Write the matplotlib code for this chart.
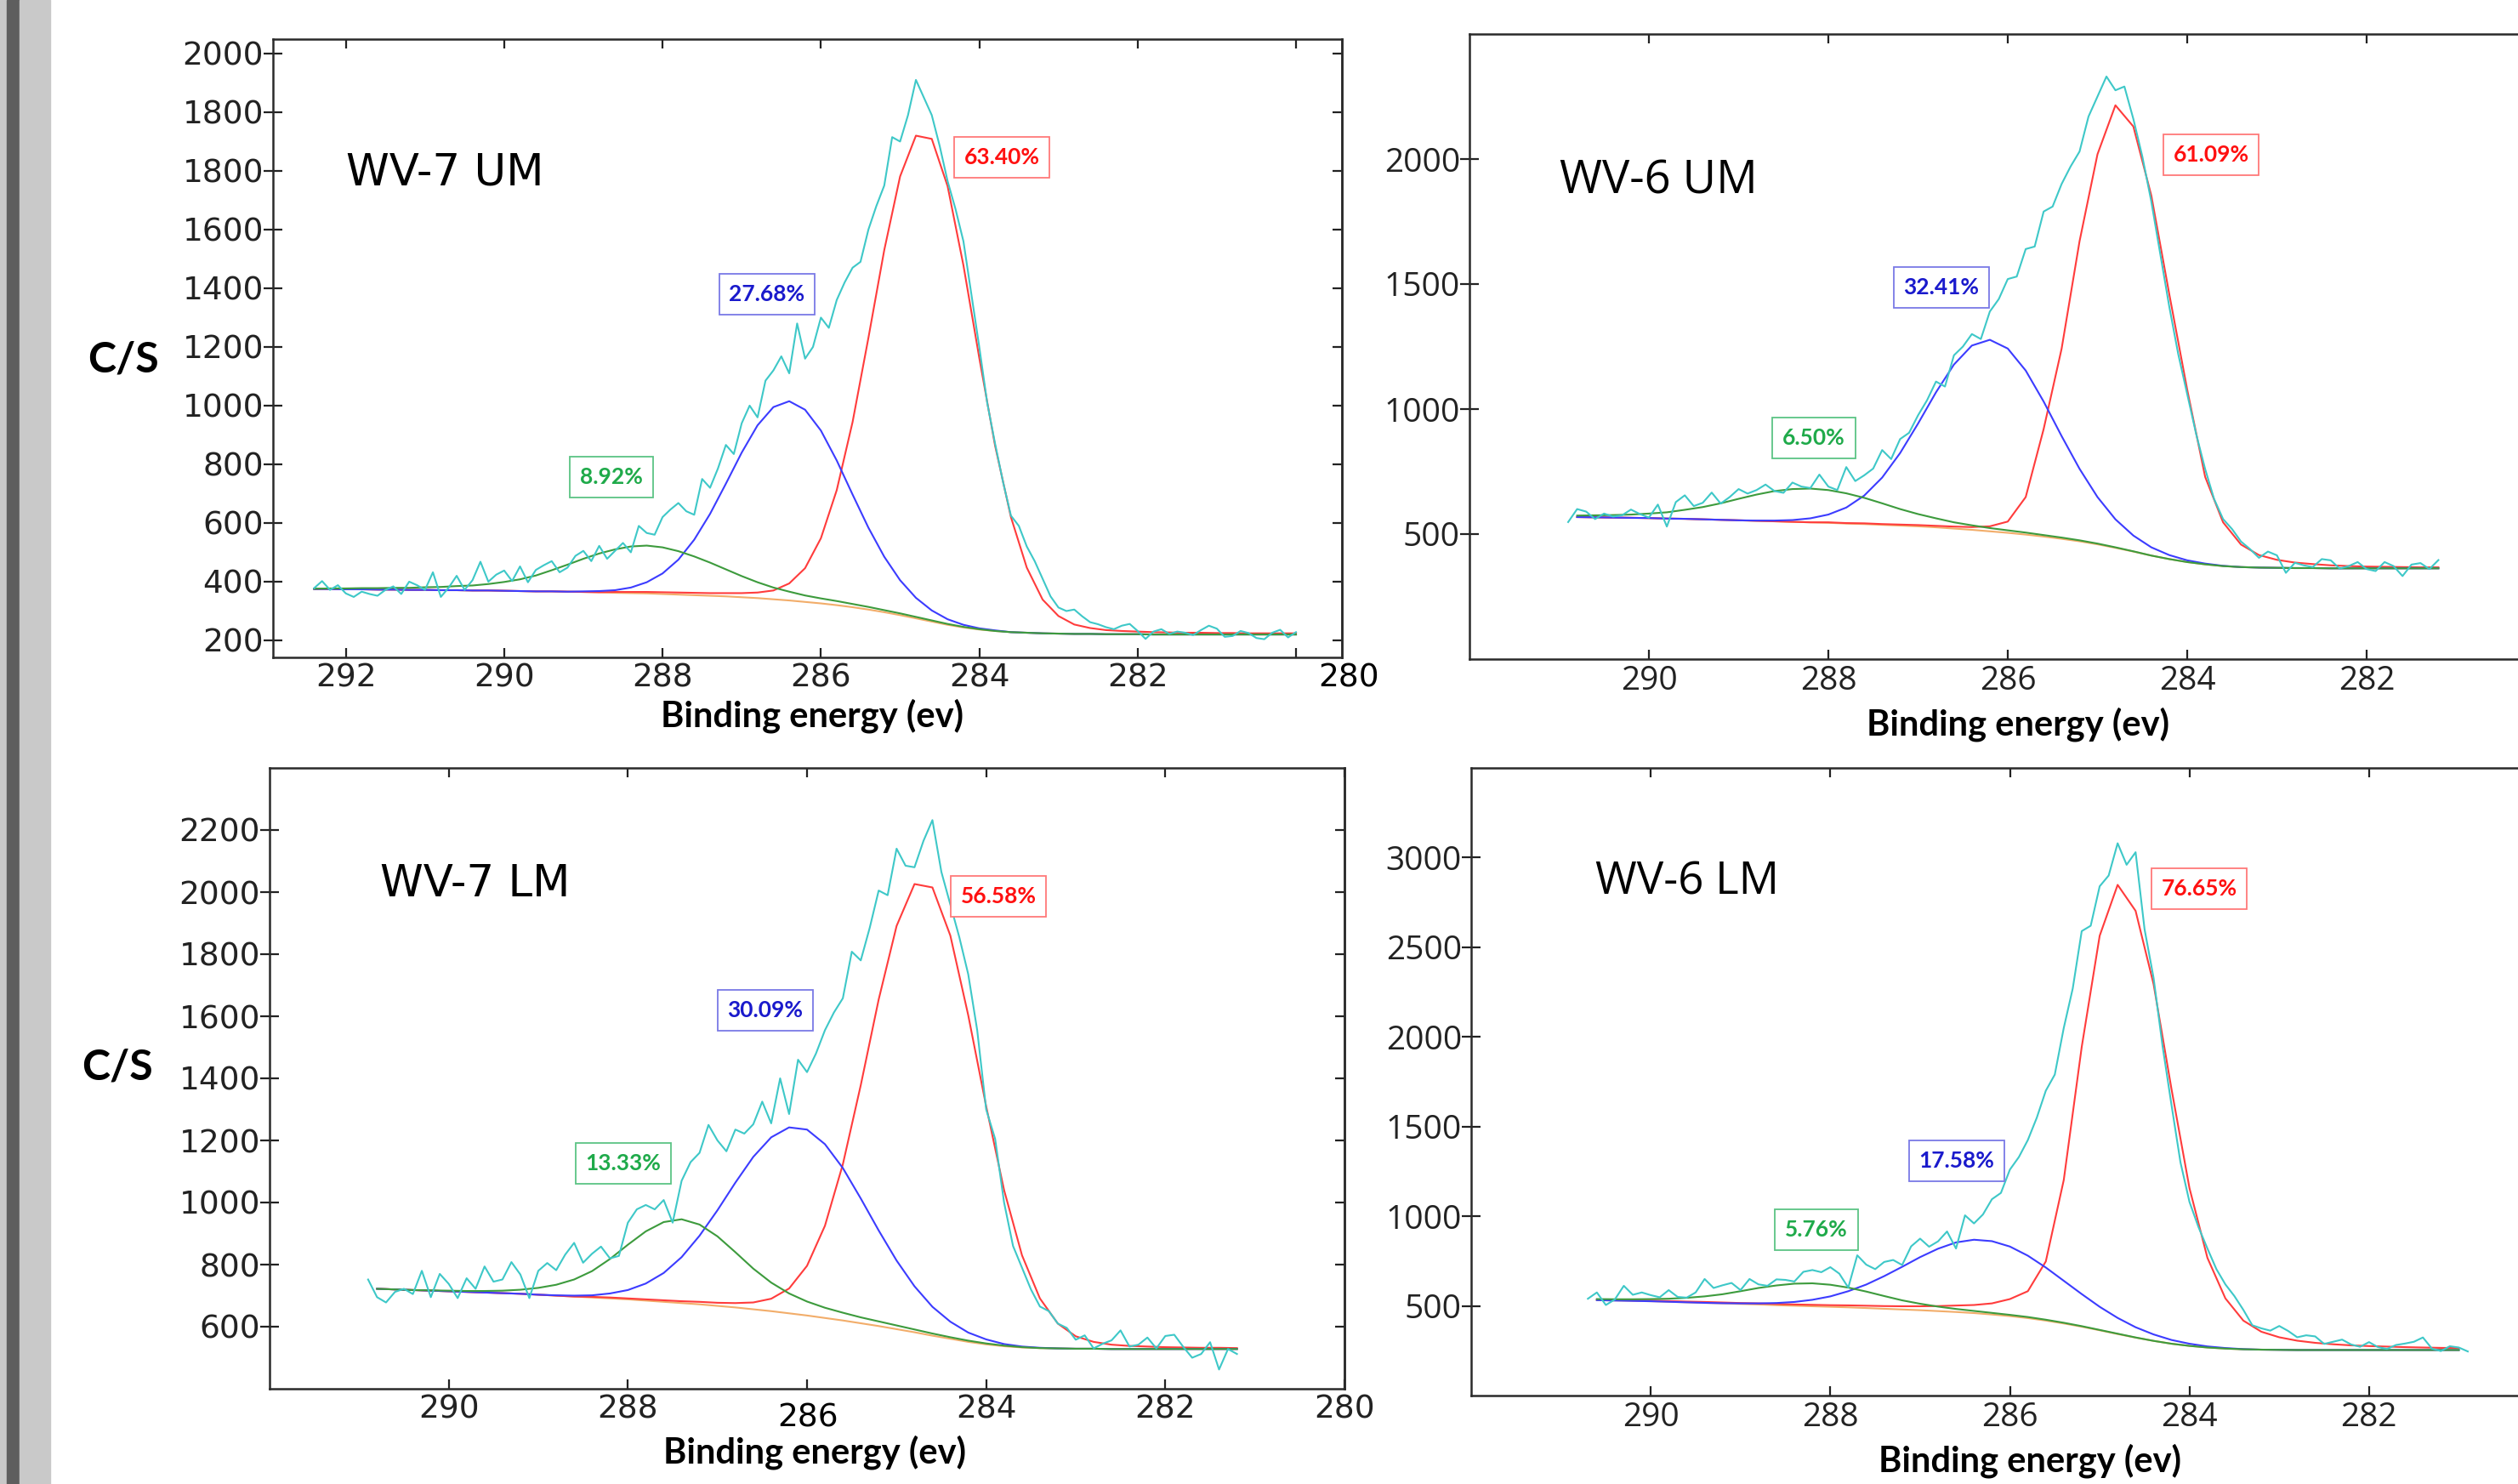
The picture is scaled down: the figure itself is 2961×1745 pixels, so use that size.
import numpy as np
import matplotlib.pyplot as plt
from matplotlib.patches import Rectangle

W, H = 2961, 1745
FIT_STEP = 0.2   # eV between points of the fitted curves
RAW_STEP = 0.1   # eV between points of the measured spectra

# ---------------- WV-7 UM ----------------
p1_raw_start = 292.4
p1_raw = [378, 402, 372, 388, 360, 348, 366, 358, 352, 372,
          384, 358, 400, 388, 372, 432, 348, 380, 420, 372,
          405, 468, 400, 424, 438, 402, 452, 398, 440, 456,
          470, 432, 448, 488, 505, 470, 522, 478, 505, 532,
          500, 590, 566, 560, 620, 646, 668, 640, 628, 750,
          720, 786, 866, 835, 940, 1000, 960, 1085, 1120, 1168,
          1110, 1280, 1160, 1200, 1300, 1265, 1360, 1420, 1470, 1490,
          1600, 1680, 1750, 1915, 1900, 1990, 2110, 2050, 1990, 1885,
          1765, 1670, 1560, 1380, 1200, 1010, 870, 740, 625, 590,
          520, 470, 410, 350, 312, 300, 305, 282, 262, 255,
          245, 238, 250, 256, 232, 205, 230, 238, 222, 230,
          226, 218, 235, 250, 240, 212, 215, 232, 225, 208,
          204, 226, 236, 210, 228]
p1_bg_start = 292.4
p1_bg = [375, 375, 374, 374, 373, 373, 372, 372, 371, 371,
         370, 370, 369, 368, 367, 367, 366, 365, 364, 362,
         361, 360, 358, 356, 354, 352, 350, 347, 344, 340,
         336, 331, 326, 320, 313, 305, 296, 286, 275, 264,
         253, 244, 237, 232, 228, 226, 224, 223, 222, 222,
         221, 221, 221, 220, 220, 220, 220, 220, 220, 220,
         220, 220, 220]
p1_red_start = 288.6
p1_red = [3, 4, 5, 6, 7, 8, 9, 11, 14, 19, 30, 58, 115, 222, 392, 631, 926,
          1234, 1495, 1645, 1645, 1495, 1234, 926, 631, 392, 222, 115, 60,
          32, 20, 14, 11, 9, 8, 7, 6, 6, 5, 5, 4, 4, 4, 4]
p1_blue_start = 289.0
p1_blue = [2, 4, 9, 19, 38, 70, 119, 189, 279, 384, 493, 589, 655, 679,
           655, 589, 493, 384, 279, 189, 119, 70, 38, 19, 9, 4, 2]
p1_green_start = 292.4
p1_green = [1, 2, 3, 4, 5, 6, 7, 9, 11, 14, 17, 22, 30, 40, 54, 72, 92, 113,
            132, 148, 159, 163, 159, 148, 132, 113, 92, 72, 54, 40, 30, 22,
            17, 14, 11, 9, 7, 6, 5, 4, 3, 2, 1]
p1_pct = ['8.92%', '27.68%', '63.40%']

# ---------------- WV-6 UM ----------------
p2_raw_start = 290.9
p2_raw = [548, 600, 590, 560, 582, 570, 575, 598, 580, 566,
          618, 530, 628, 655, 612, 625, 666, 622, 648, 680,
          662, 676, 698, 672, 665, 706, 690, 684, 738, 690,
          676, 768, 712, 735, 762, 836, 800, 880, 905, 975,
          1035, 1110, 1090, 1215, 1250, 1300, 1280, 1390, 1440, 1520,
          1530, 1640, 1650, 1790, 1810, 1900, 1970, 2030, 2170, 2250,
          2330, 2275, 2290, 2160, 2010, 1830, 1620, 1410, 1220, 1060,
          900, 760, 640, 560, 520, 470, 440, 405, 430, 415,
          345, 385, 375, 368, 400, 395, 362, 372, 388, 360,
          352, 388, 372, 332, 378, 384, 360, 396]
p2_bg_start = 290.8
p2_bg = [568, 567, 566, 565, 564, 562, 561, 559, 557, 555,
         553, 551, 549, 547, 545, 542, 540, 537, 534, 531,
         527, 522, 517, 511, 505, 498, 490, 481, 471, 459,
         445, 430, 414, 400, 388, 379, 372, 368, 366, 365,
         364, 364, 363, 363, 363, 363, 363, 363, 363]
p2_red_start = 288.0
p2_red = [2, 2, 3, 3, 4, 5, 6, 8, 11, 20, 45, 150, 430, 760, 1200, 1560,
          1770, 1700, 1440, 1060, 690, 350, 175, 90, 50, 32, 22, 16, 12, 9,
          7, 6, 5, 4, 4]
p2_blue_start = 288.8
p2_blue = [1, 3, 7, 16, 33, 64, 114, 189, 290, 411, 540, 656, 737, 766,
           737, 656, 540, 411, 290, 189, 114, 64, 33, 16, 7, 3, 1]
p2_green_start = 290.8
p2_green = [6, 8, 10, 13, 18, 25, 36, 49, 66, 86, 105, 121, 131, 135, 131,
            121, 105, 86, 66, 49, 36, 25, 18, 13, 10, 8, 6, 5, 4, 3, 2, 1]
p2_pct = ['6.50%', '32.41%', '61.09%']

# ---------------- WV-7 LM ----------------
p3_raw_start = 290.9
p3_raw = [752, 695, 678, 712, 722, 705, 780, 695, 770, 738,
          692, 756, 722, 794, 745, 752, 808, 768, 692, 780,
          805, 782, 832, 870, 806, 835, 858, 820, 828, 935,
          978, 992, 978, 1008, 935, 1070, 1130, 1160, 1250, 1200,
          1165, 1235, 1222, 1252, 1325, 1255, 1400, 1285, 1460, 1420,
          1480, 1555, 1612, 1658, 1808, 1780, 1885, 2005, 1990, 2140,
          2085, 2080, 2165, 2232, 2065, 1960, 1855, 1735, 1555, 1300,
          1205, 1000, 860, 790, 720, 665, 650, 610, 596, 558,
          572, 530, 545, 556, 588, 536, 542, 565, 530, 570,
          574, 535, 500, 512, 550, 462, 528, 512]
p3_bg_start = 290.8
p3_bg = [722, 720, 718, 716, 714, 712, 710, 708, 706, 703,
         700, 697, 694, 691, 688, 684, 680, 676, 672, 667,
         662, 656, 650, 643, 636, 628, 620, 611, 602, 592,
         582, 571, 561, 551, 543, 537, 533, 531, 530, 529,
         529, 528, 528, 528, 528, 528, 528, 528, 528]
p3_red_start = 288.4
p3_red = [2, 3, 3, 4, 5, 6, 8, 10, 14, 22, 40, 80, 160, 297, 503, 767, 1052,
          1299, 1444, 1444, 1299, 1052, 767, 503, 297, 160, 80, 40, 22, 14,
          10, 8, 6, 5, 4, 4, 3]
p3_blue_start = 288.8
p3_blue = [1, 3, 7, 16, 30, 55, 93, 148, 221, 308, 402, 491, 560, 599, 599,
           560, 491, 402, 308, 221, 148, 93, 55, 30, 16, 7, 3, 1]
p3_green_start = 290.2
p3_green = [1, 2, 3, 5, 8, 13, 22, 35, 55, 85, 127, 176, 223, 257, 270, 257,
            224, 178, 131, 92, 64, 45, 33, 25, 19, 15, 12, 9, 7, 5, 4, 3, 2, 1]
p3_pct = ['13.33%', '30.09%', '56.58%']

# ---------------- WV-6 LM ----------------
p4_raw_start = 290.7
p4_raw = [540, 575, 505, 536, 612, 562, 575, 560, 548, 588,
          550, 546, 575, 650, 600, 615, 628, 588, 650, 620,
          612, 648, 645, 636, 690, 700, 688, 716, 680, 602,
          782, 730, 705, 745, 756, 728, 832, 875, 830, 860,
          915, 820, 1005, 960, 1010, 1095, 1130, 1260, 1330, 1425,
          1550, 1700, 1790, 2050, 2270, 2590, 2620, 2840, 2900, 3080,
          2960, 3030, 2600, 2330, 1950, 1620, 1300, 1080, 940, 820,
          705, 620, 555, 478, 392, 375, 362, 388, 360, 325,
          336, 330, 288, 300, 312, 285, 272, 298, 270, 260,
          282, 290, 300, 324, 262, 248, 275, 268, 246]
p4_bg_start = 290.6
p4_bg = [532, 530, 528, 526, 523, 520, 517, 514, 511, 508,
         504, 501, 498, 495, 492, 488, 484, 480, 476, 471,
         466, 460, 452, 443, 432, 418, 402, 384, 364, 343,
         323, 305, 289, 277, 268, 262, 258, 256, 255, 254,
         254, 254, 254, 254, 254, 254, 254, 254, 254]
p4_red_start = 290.6
p4_red = [3, 3, 3, 4, 4, 4, 5, 5, 5, 6,
          7, 7, 8, 9, 11, 13, 15, 18, 22, 28,
          36, 45, 62, 95, 150, 330, 800, 1560, 2200, 2505,
          2380, 1990, 1420, 880, 500, 280, 160, 100, 70, 52,
          40, 32, 26, 22, 19, 16, 14, 12, 11]
p4_blue_start = 289.2
p4_blue = [1, 3, 6, 12, 21, 36, 58, 90, 131, 182, 238, 296, 348, 388, 409,
           409, 388, 348, 296, 238, 182, 131, 90, 58, 36, 21, 12, 6, 3, 1]
p4_green_start = 290.6
p4_green = [6, 7, 9, 12, 17, 25, 36, 51, 71, 92, 110, 123, 128, 123, 110, 92,
            71, 51, 36, 25, 17, 12, 9, 7, 6, 5, 4, 3, 2, 2, 1]
p4_pct = ['5.76%', '17.58%', '76.65%']

# colours
C_RAW, C_BG = '#3ec8c8', '#f2ad6a'
C_RED, C_BLUE, C_GREEN = '#ff3c3c', '#3c3cff', '#3d9b3d'
TXT = {'g': ('#1faa4a', '#5cc485'), 'b': ('#1a1acc', '#7a7ae6'), 'r': ('#ff1010', '#ff7a7a')}


def energies(start, n, step):
    return start - step * np.arange(n)


def on_bg(comp, comp_start, bg, bg_start):
    full = np.zeros(len(bg))
    i0 = int(round((bg_start - comp_start) / FIT_STEP))
    full[i0:i0 + len(comp)] = comp
    return np.array(bg) + full


def px(x, y):
    return x / W, 1 - y / H


panels = [
    dict(title='WV-7 UM', edges=(321, 1578, 46, 773), xlim=(292.92, 279.42), ylim=(142, 2249),
         xticks=[292, 290, 288, 286, 284, 282, 280],
         xlabels=['292', '290', '288', '286', '284', '282', ''],
         yticks=list(range(200, 2201, 200)),
         ylabels=['200', '400', '600', '800', '1000', '1200', '1400', '1600', '1800', '1800', '2000'],
         font='DejaVu Sans', tsize=27, title_size=37, title_xy=(407, 217),
         raw=(p1_raw_start, p1_raw), bg=(p1_bg_start, p1_bg),
         comps=[(p1_red_start, p1_red, C_RED), (p1_blue_start, p1_blue, C_BLUE),
                (p1_green_start, p1_green, C_GREEN)],
         pct=p1_pct, pct_xy=[(719, 561, 'g'), (902, 346, 'b'), (1178, 185, 'r')],
         xname_xy=(955, 855), cs_xy=(145, 437)),
    dict(title='WV-6 UM', edges=(1728, 2994, 40, 775), xlim=(292, 280), ylim=(0, 2500),
         xticks=[290, 288, 286, 284, 282], xlabels=['290', '288', '286', '284', '282'],
         yticks=[500, 1000, 1500, 2000], ylabels=['500', '1000', '1500', '2000'],
         font='Open Sans', tsize=28, title_size=39, title_xy=(1834, 227),
         raw=(p2_raw_start, p2_raw), bg=(p2_bg_start, p2_bg),
         comps=[(p2_red_start, p2_red, C_RED), (p2_blue_start, p2_blue, C_BLUE),
                (p2_green_start, p2_green, C_GREEN)],
         pct=p2_pct, pct_xy=[(2133, 515, 'g'), (2283, 338, 'b'), (2600, 182, 'r')],
         xname_xy=(2373, 864), cs_xy=None),
    dict(title='WV-7 LM', edges=(317, 1581, 903, 1633), xlim=(292, 280), ylim=(400, 2400),
         xticks=[290, 288, 286, 284, 282, 280],
         xlabels=['290', '288', '', '284', '282', '280'],
         yticks=list(range(600, 2201, 200)),
         ylabels=[str(v) for v in range(600, 2201, 200)],
         font='DejaVu Sans', tsize=27, title_size=37, title_xy=(447, 1054),
         raw=(p3_raw_start, p3_raw), bg=(p3_bg_start, p3_bg),
         comps=[(p3_red_start, p3_red, C_RED), (p3_blue_start, p3_blue, C_BLUE),
                (p3_green_start, p3_green, C_GREEN)],
         pct=p3_pct, pct_xy=[(733, 1368, 'g'), (900, 1188, 'b'), (1174, 1054, 'r')],
         xname_xy=(958, 1721), cs_xy=(138, 1269)),
    dict(title='WV-6 LM', edges=(1730, 2997, 903, 1641), xlim=(292, 280), ylim=(0, 3500),
         xticks=[290, 288, 286, 284, 282], xlabels=['290', '288', '286', '284', '282'],
         yticks=[500, 1000, 1500, 2000, 2500, 3000],
         ylabels=['500', '1000', '1500', '2000', '2500', '3000'],
         font='Open Sans', tsize=28, title_size=38, title_xy=(1876, 1051),
         raw=(p4_raw_start, p4_raw), bg=(p4_bg_start, p4_bg),
         comps=[(p4_red_start, p4_red, C_RED), (p4_blue_start, p4_blue, C_BLUE),
                (p4_green_start, p4_green, C_GREEN)],
         pct=p4_pct, pct_xy=[(2136, 1446, 'g'), (2301, 1365, 'b'), (2586, 1045, 'r')],
         xname_xy=(2387, 1730), cs_xy=None),
]

fig = plt.figure(figsize=(W / 100, H / 100), dpi=100)
fig.patch.set_facecolor('white')

# grey window strip on the left edge
for x0, x1, col in [(0, 8, '#c8c8c8'), (8, 23, '#5e5e5e'), (23, 59, '#c9c9c9')]:
    fig.patches.append(Rectangle((x0 / W, 0), (x1 - x0) / W, 1, transform=fig.transFigure,
                                 color=col, zorder=0))

for p in panels:
    l, r, t, b = p['edges']
    ax = fig.add_axes([l / W, 1 - b / H, (r - l) / W, (b - t) / H])

    bg_start, bg = p['bg']
    x_fit = energies(bg_start, len(bg), FIT_STEP)
    ax.plot(x_fit, bg, color=C_BG, lw=1.5, zorder=2)
    for z, (cs, cv, col) in enumerate(p['comps']):
        ax.plot(x_fit, on_bg(cv, cs, bg, bg_start), color=col, lw=1.5, zorder=3 + z)
    rs, rv = p['raw']
    ax.plot(energies(rs, len(rv), RAW_STEP), rv, color=C_RAW, lw=1.5, zorder=7)

    ax.set_xlim(*p['xlim'])
    ax.set_ylim(*p['ylim'])
    ax.set_xticks(p['xticks'])
    ax.set_xticklabels(p['xlabels'], fontfamily=p['font'], fontsize=p['tsize'])
    ax.set_yticks(p['yticks'])
    ax.set_yticklabels(p['ylabels'], fontfamily=p['font'], fontsize=p['tsize'])
    ax.tick_params(axis='x', direction='in', length=8, width=1.6, top=True, bottom=True,
                   pad=5, colors='#222222')
    ax.tick_params(axis='y', direction='inout', length=16, width=1.6, left=True, right=False,
                   pad=0, colors='#222222')
    sec = ax.secondary_yaxis('right')
    sec.set_yticks(p['yticks'])
    sec.tick_params(direction='in', length=8, width=1.6, labelright=False, colors='#222222')
    sec.spines['right'].set_linewidth(1.8)
    sec.spines['right'].set_color('#2a2a2a')
    for s in ax.spines.values():
        s.set_linewidth(1.8)
        s.set_color('#2a2a2a')

    tx, ty = px(*p['title_xy'])
    fig.text(tx, ty, p['title'], fontfamily=p['font'], fontsize=p['title_size'],
             ha='left', va='baseline', color='black')

    for label, (cx, cy, key) in zip(p['pct'], p['pct_xy']):
        fc, ec = TXT[key]
        x, y = px(cx, cy)
        fig.text(x, y, label, fontfamily='Lato', fontweight='bold', fontsize=19,
                 color=fc, ha='center', va='center', zorder=10,
                 bbox=dict(boxstyle='square,pad=0.45', fc='white', ec=ec, lw=1.3))

    nx, ny = px(*p['xname_xy'])
    fig.text(nx, ny, 'Binding energy (ev)', fontfamily='Lato', fontweight='bold',
             fontsize=30, ha='center', va='baseline')
    if p['cs_xy'] is not None:
        cx, cy = px(*p['cs_xy'])
        fig.text(cx, cy, 'C/S', fontfamily='Lato', fontweight='bold', fontsize=36,
                 ha='center', va='baseline')

# tick labels that sit off their usual place in the source figure
x, y = px(1586, 798)
fig.text(x, y, '280', fontfamily='DejaVu Sans', fontsize=27, ha='center', va='center')
x, y = px(950, 1667)
fig.text(x, y, '286', fontfamily='DejaVu Sans', fontsize=27, ha='center', va='center')

fig.savefig('out.png', dpi=100)
